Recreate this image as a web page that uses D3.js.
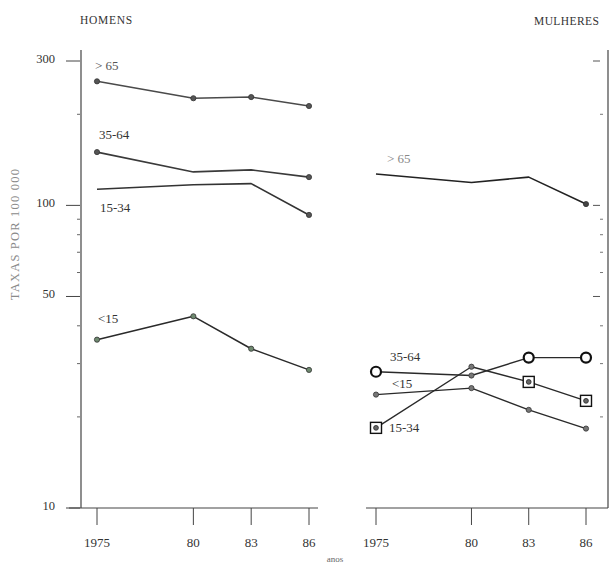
<!DOCTYPE html>
<html><head><meta charset="utf-8">
<script src="https://cdn.jsdelivr.net/npm/d3@7"></script>
<style>body{margin:0;background:#fff}svg{display:block}text{font-family:"Liberation Serif","DejaVu Serif",serif}</style>
</head><body><svg id="c" width="610" height="565"></svg>
<script>
const years = [1975, 1980, 1983, 1986];
const yearLabels = ["1975", "80", "83", "86"];
const menOver65 = [257, 226, 228, 213];
const men35_64 = [150, 129, 131, 124];
const men15_34 = [113, 117, 118, 93];
const menUnder15 = [36, 43, 33.6, 28.6];
const womenOver65 = [127, 119, 124, 101];
const women35_64 = [28.2, 27.4, 31.4, 31.4];
const women15_34 = [18.4, 29.3, 26.1, 22.6];
const womenUnder15 = [23.7, 24.9, 21.1, 18.3];
const yMajor = [10, 50, 100, 300];
const yMajorLabels = ["10", "50", "100", "300"];
const yMinor = [20, 30, 40, 60, 70, 80, 90, 200];

const svg = d3.select("#c");
const y = d3.scaleLog().domain([10, 300]).range([508, 61]);
const xL = d3.scaleLinear().domain([1975, 1986]).range([97, 309]);
const xR = d3.scaleLinear().domain([1975, 1986]).range([376, 586]);
const ink = "#2a2a2a";

// titles
svg.append("text").attr("x", 80).attr("y", 24).attr("font-size", 11.5).attr("letter-spacing", 0.7).attr("fill", "#333").text("HOMENS");
svg.append("text").attr("x", 534).attr("y", 25).attr("font-size", 11.5).attr("letter-spacing", 0.4).attr("fill", "#333").text("MULHERES");
svg.append("text").attr("transform", "translate(19,234) rotate(-90)").attr("text-anchor", "middle")
  .attr("font-size", 12.5).attr("fill", "#8a8a8a").attr("letter-spacing", 1.2).text("TAXAS POR 100 000");
svg.append("text").attr("x", 335).attr("y", 562).attr("text-anchor", "middle").attr("font-size", 9).attr("fill", "#666").text("anos");

// left y axis
svg.append("line").attr("x1", 81).attr("x2", 81).attr("y1", 50).attr("y2", 508).attr("stroke", "#444").attr("stroke-width", 1.2);
yMajor.forEach((v, i) => {
  svg.append("line").attr("x1", 66).attr("x2", 80).attr("y1", y(v)).attr("y2", y(v)).attr("stroke", "#444").attr("stroke-width", 1);
  svg.append("text").attr("x", 55).attr("y", y(v) + 2).attr("text-anchor", "end").attr("font-size", 12.5).attr("fill", "#333").text(yMajorLabels[i]);
});
yMinor.forEach(v => {
  svg.append("line").attr("x1", 77).attr("x2", 80).attr("y1", y(v)).attr("y2", y(v)).attr("stroke", "#666").attr("stroke-width", 1);
});
// right y axis
svg.append("line").attr("x1", 608).attr("x2", 608).attr("y1", 50).attr("y2", 508).attr("stroke", "#444").attr("stroke-width", 1.2);
yMajor.forEach(v => {
  if (v === 10) return;
  svg.append("line").attr("x1", 593).attr("x2", 600).attr("y1", y(v)).attr("y2", y(v)).attr("stroke", "#555").attr("stroke-width", 1);
});
yMinor.forEach(v => {
  svg.append("line").attr("x1", 600).attr("x2", 603).attr("y1", y(v)).attr("y2", y(v)).attr("stroke", "#777").attr("stroke-width", 1);
});

// x axes
function xAxis(x, x0, x1) {
  svg.append("line").attr("x1", x0).attr("x2", x1).attr("y1", 508).attr("y2", 508).attr("stroke", "#444").attr("stroke-width", 1.2);
  years.forEach((yr, i) => {
    svg.append("line").attr("x1", x(yr)).attr("x2", x(yr)).attr("y1", 508).attr("y2", 525).attr("stroke", "#444").attr("stroke-width", 1);
    svg.append("text").attr("x", x(yr)).attr("y", 547).attr("text-anchor", "middle").attr("font-size", 13).attr("fill", "#333").text(yearLabels[i]);
  });
}
xAxis(xL, 69, 318);
xAxis(xR, 366, 608);

const line = x => d3.line().x((d, i) => x(years[i])).y(d => y(d));
function series(x, vals, color, w) {
  svg.append("path").attr("d", line(x)(vals)).attr("fill", "none").attr("stroke", color).attr("stroke-width", w).attr("stroke-linejoin", "round");
}
function dots(x, vals, idx, fill) {
  idx.forEach(i => {
    svg.append("circle").attr("cx", x(years[i])).attr("cy", y(vals[i])).attr("r", 2.6).attr("fill", fill).attr("stroke", "#333").attr("stroke-width", 0.8);
  });
}

// men
series(xL, menOver65, "#4a4a4a", 1.6); dots(xL, menOver65, [0, 1, 2, 3], "#555");
series(xL, men35_64, "#3a3a3a", 1.6); dots(xL, men35_64, [0, 3], "#555");
series(xL, men15_34, "#333", 1.6); dots(xL, men15_34, [3], "#555");
series(xL, menUnder15, ink, 1.5); dots(xL, menUnder15, [0, 1, 2, 3], "#6f8a70");

// women
series(xR, womenOver65, "#222", 1.6); dots(xR, womenOver65, [3], "#444");
series(xR, womenUnder15, ink, 1.4); dots(xR, womenUnder15, [0, 1, 2, 3], "#777");
series(xR, women35_64, ink, 1.4);
series(xR, women15_34, ink, 1.4);
dots(xR, women35_64, [1], "#777");
dots(xR, women15_34, [1], "#777");
[0, 2, 3].forEach(i => {
  svg.append("circle").attr("cx", xR(years[i])).attr("cy", y(women35_64[i])).attr("r", 5).attr("fill", "#fff").attr("stroke", "#111").attr("stroke-width", 2.2);
});
[0, 2, 3].forEach(i => {
  const cx = xR(years[i]), cy = y(women15_34[i]);
  svg.append("rect").attr("x", cx - 5.5).attr("y", cy - 5.5).attr("width", 11).attr("height", 11).attr("fill", "#fff").attr("stroke", "#111").attr("stroke-width", 1.4);
  svg.append("circle").attr("cx", cx).attr("cy", cy).attr("r", 2.4).attr("fill", "#666").attr("stroke", "#222").attr("stroke-width", 0.8);
});

// series labels
const lab = (x, yy, t, c) => svg.append("text").attr("x", x).attr("y", yy).attr("font-size", 13).attr("fill", c || "#333").text(t);
lab(95, 70, "> 65", "#555");
lab(99, 139, "35-64");
lab(100, 212, "15-34");
lab(98, 323, "<15");
lab(387, 163, "> 65", "#888");
lab(390, 361, "35-64");
lab(392, 388, "<15");
lab(389, 432, "15-34");
</script></body></html>
